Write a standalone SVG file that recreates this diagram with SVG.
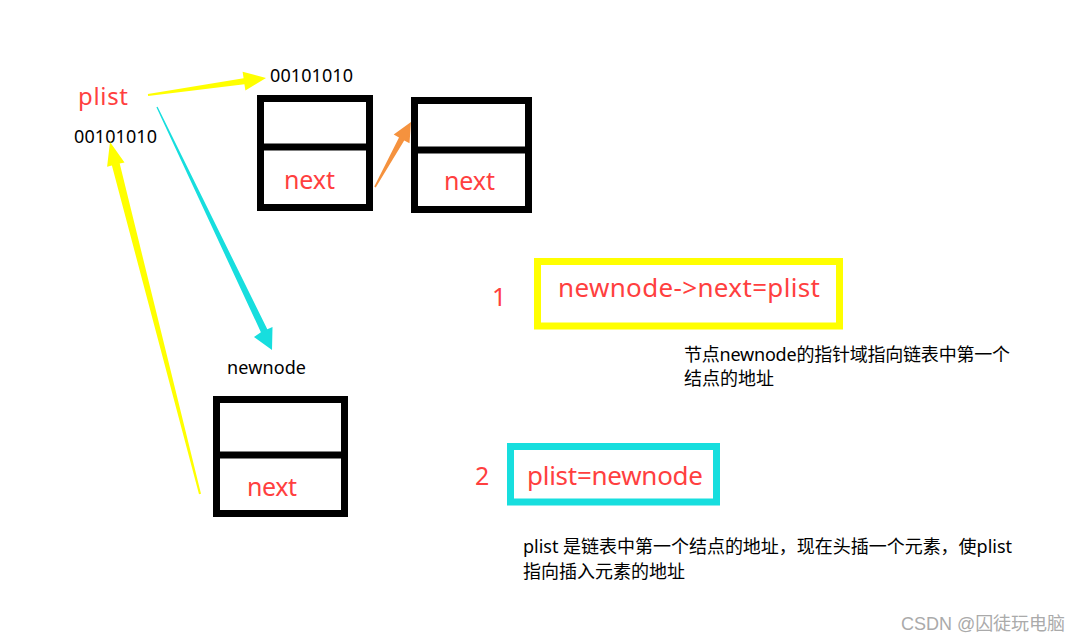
<svg xmlns="http://www.w3.org/2000/svg" width="1081" height="644" viewBox="0 0 1081 644">
<style>
.box{fill:none;stroke:#000;stroke-width:7}
.div{stroke:#000;stroke-width:7}
.red{fill:#ff3f3f;font-family:"Noto Sans","Open Sans","Noto Sans CJK SC",sans-serif}
.blk{fill:#000;font-family:"Noto Sans","Open Sans","Noto Sans CJK SC",sans-serif}
.cjk{fill:#000;font-family:"Noto Sans","Noto Sans CJK SC",sans-serif;font-size:18px}
</style>
<rect width="1081" height="644" fill="#fff"/>
<g id="plist">
<text class="red" x="78" y="105" font-size="24" textLength="50">plist</text>
<text class="blk" x="74" y="143" font-size="18" textLength="83">00101010</text>
</g>
<g id="node1">
<text class="blk" x="270" y="82" font-size="18" textLength="83">00101010</text>
<rect class="box" x="260.5" y="98.5" width="109" height="109"/>
<line class="div" x1="257" y1="147" x2="373" y2="147"/>
<text class="red" x="284" y="189" font-size="25" textLength="51">next</text>
</g>
<g id="node2">
<rect class="box" x="414.5" y="100.5" width="114" height="109"/>
<line class="div" x1="411" y1="150" x2="532" y2="150"/>
<text class="red" x="444" y="190" font-size="25" textLength="51">next</text>
</g>
<g id="newnode">
<text class="blk" x="227" y="374" font-size="18" textLength="79">newnode</text>
<rect class="box" x="216.5" y="399.5" width="128" height="114"/>
<line class="div" x1="213" y1="455" x2="348" y2="455"/>
<text class="red" x="247" y="496" font-size="25" textLength="50">next</text>
</g>
<g id="step1">
<text class="red" x="492" y="306" font-size="25">1</text>
<rect x="537.5" y="261.5" width="302" height="64.5" fill="none" stroke="#ffff00" stroke-width="7"/>
<text class="red" x="558" y="297" font-size="26" textLength="262">newnode-&gt;next=plist</text>
<text class="cjk" x="684" y="361" textLength="326">节点newnode的指针域指向链表中第一个</text>
<text class="cjk" x="684" y="385">结点的地址</text>
</g>
<g id="step2">
<text class="red" x="475" y="485" font-size="25">2</text>
<rect x="510.5" y="446.5" width="206" height="55.5" fill="none" stroke="#17dede" stroke-width="7"/>
<text class="red" x="527" y="485" font-size="26" textLength="176">plist=newnode</text>
<text class="cjk" x="523" y="553" textLength="489">plist 是链表中第一个结点的地址，现在头插一个元素，使plist</text>
<text class="cjk" x="523" y="578">指向插入元素的地址</text>
</g>
<g id="connectors">
<polygon fill="#ffff00" points="147.9,94 243.6,78.2 242.6,71.8 266,78 245.4,90.6 244.4,84.2 148.1,96"/>
<polygon fill="#ffff00" points="199,494.2 111.9,165.6 107.1,166.8 110,142 124.5,162.4 119.7,163.6 201,493.8"/>
<polygon fill="#17dede" points="157.6,106.7 267.3,329.2 272.5,327 272,350 254,337 260.9,332.2 156.4,107.3"/>
<polygon fill="#f5923e" points="374.3,186.6 399,137.4 393.7,134.5 411,122 409.5,143.3 404.2,140.4 375.7,187.4"/>
</g>
<text x="901" y="630" font-size="18" textLength="164" fill="#aaaaaa" font-family="'Liberation Sans','Noto Sans CJK SC',sans-serif">CSDN @囚徒玩电脑</text>
</svg>
